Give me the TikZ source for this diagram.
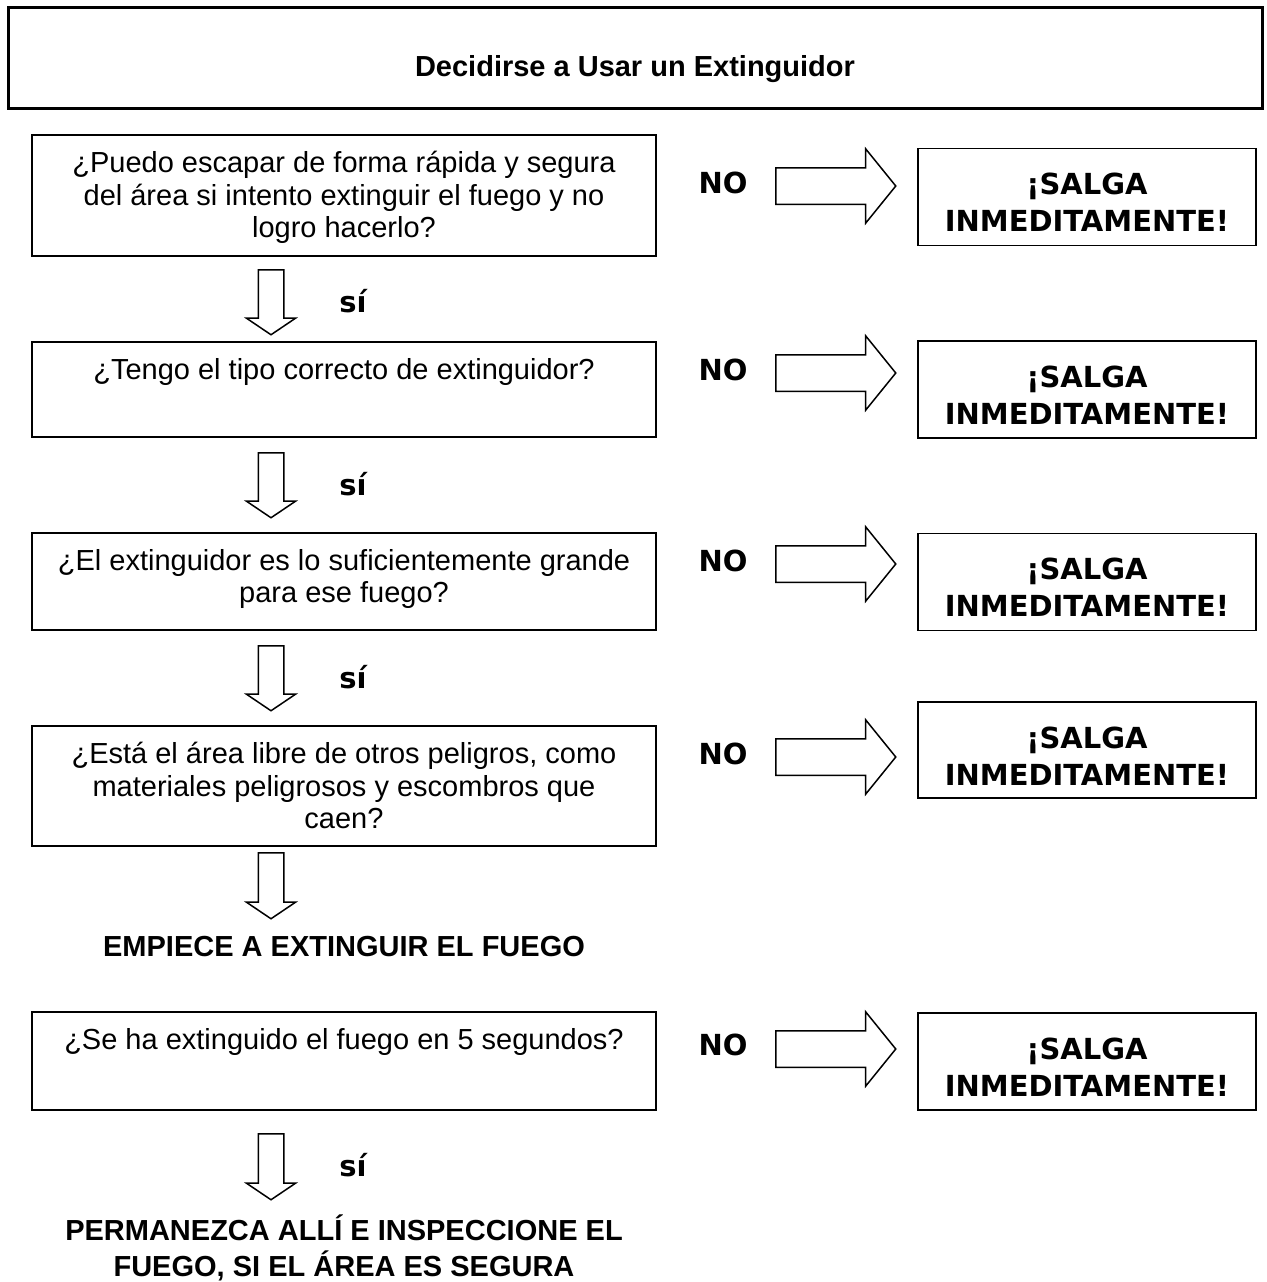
\documentclass[tikz,border=0pt]{standalone}
\usepackage{fontspec}
\setmainfont{Liberation Sans}
\newfontfamily\heavyfont{DejaVu Sans Bold}
\usetikzlibrary{shapes.arrows}
\usetikzlibrary{positioning}
\tikzset{
    titlebox/.style = {rectangle, draw=black, line width=3pt, minimum width=1254pt, inner sep=0pt},
    qbox/.style = {rectangle, draw=black, line width=1.6pt, minimum width=624pt, inner sep=0pt},
    outbox/.style = {rectangle, draw=black, line width=1.6pt, minimum width=338pt, inner sep=0pt},
    qtext/.style = {align=center, inner sep=0pt, font=\fontsize{29pt}{32.5pt}\selectfont},
    outtext/.style = {align=center, inner sep=0pt, font=\heavyfont\fontsize{29pt}{37pt}\selectfont},
    headtext/.style = {align=center, inner sep=0pt, font=\bfseries\fontsize{29pt}{35.5pt}\selectfont},
    answer/.style = {inner sep=0pt, anchor=base, font=\heavyfont\fontsize{29pt}{35pt}\selectfont},
    arrowd/.style = {single arrow, draw=black, line width=1.5pt, inner sep=12pt, minimum width=48pt, minimum height=65pt,
        single arrow head extend=12pt, single arrow tip angle=112, shape border rotate=270, anchor=tail},
    arrowr/.style = {single arrow, draw=black, line width=1.5pt, inner sep=17.5pt, minimum width=73pt, minimum height=120pt,
        single arrow head extend=19pt, single arrow tip angle=102, anchor=tail},
}
\newcommand{\Salga}{¡SALGA\\INMEDITAMENTE!}

\begin{document}
\begin{tikzpicture}[x=1pt,y=-1pt]
\useasboundingbox (0,0) rectangle (1266,1282);
\node[titlebox, minimum height=101pt] at (635, 57.5) (title) {};
\node[headtext, anchor=base] at (635, 76) (titletxt) {Decidirse a Usar un Extinguidor};
% questions
\node[qbox, minimum height=121pt] at (344, 195.5) (q1) {};
\node[qtext, below=17pt of q1.north] (t1) {¿Puedo escapar de forma rápida y segura\\del área si intento extinguir el fuego y no\\logro hacerlo?};
\node[qbox, minimum height=95pt] at (344, 389.5) (q2) {};
\node[qtext, below=17pt of q2.north] (t2) {¿Tengo el tipo correcto de extinguidor?};
\node[qbox, minimum height=97pt] at (344, 581.5) (q3) {};
\node[qtext, below=17pt of q3.north] (t3) {¿El extinguidor es lo suficientemente grande\\para ese fuego?};
\node[qbox, minimum height=120pt] at (344, 786) (q4) {};
\node[qtext, below=17pt of q4.north] (t4) {¿Está el área libre de otros peligros, como\\materiales peligrosos y escombros que\\caen?};
\node[qbox, minimum height=98pt] at (344, 1061) (q5) {};
\node[qtext, below=17pt of q5.north] (t5) {¿Se ha extinguido el fuego en 5 segundos?};
% no
\node[answer] at (723, 193.5) (n1) {NO};
\node[answer] at (723, 380.5) (n2) {NO};
\node[answer] at (723, 571.5) (n3) {NO};
\node[answer] at (723, 764.5) (n4) {NO};
\node[answer] at (723, 1055.5) (n5) {NO};
\node[arrowr] at (775, 186) (r1) {};
\node[arrowr] at (775, 373) (r2) {};
\node[arrowr] at (775, 564) (r3) {};
\node[arrowr] at (775, 757) (r4) {};
\node[arrowr] at (775, 1049) (r5) {};
\node[outbox, minimum height=97pt] at (1087, 197) (o1) {};
\node[outtext, below=25.5pt of o1.north] (s1) {\Salga};
\node[outbox, minimum height=97pt] at (1087, 389.5) (o2) {};
\node[outtext, below=25.5pt of o2.north] (s2) {\Salga};
\node[outbox, minimum height=97pt] at (1087, 582) (o3) {};
\node[outtext, below=25.5pt of o3.north] (s3) {\Salga};
\node[outbox, minimum height=96pt] at (1087, 750) (o4) {};
\node[outtext, below=25.5pt of o4.north] (s4) {\Salga};
\node[outbox, minimum height=97pt] at (1087, 1061.5) (o5) {};
\node[outtext, below=25.5pt of o5.north] (s5) {\Salga};
% si
\node[arrowd] at (271, 269) (d1) {};
\node[answer] at (353, 312) (y1) {sí};
\node[arrowd] at (271, 452) (d2) {};
\node[answer] at (353, 495) (y2) {sí};
\node[arrowd] at (271, 645) (d3) {};
\node[answer] at (353, 688) (y3) {sí};
\node[arrowd, minimum height=66pt] at (271, 852) (d4) {};
\node[headtext, anchor=base] at (344, 956) (start) {EMPIECE A EXTINGUIR EL FUEGO};
\node[arrowd, minimum height=66pt] at (271, 1133) (d5) {};
\node[answer] at (353, 1176) (y5) {sí};
\node[headtext, anchor=north] at (344, 1215) (stay) {PERMANEZCA ALLÍ E INSPECCIONE EL\\FUEGO, SI EL ÁREA ES SEGURA};
\end{tikzpicture}
\end{document}
